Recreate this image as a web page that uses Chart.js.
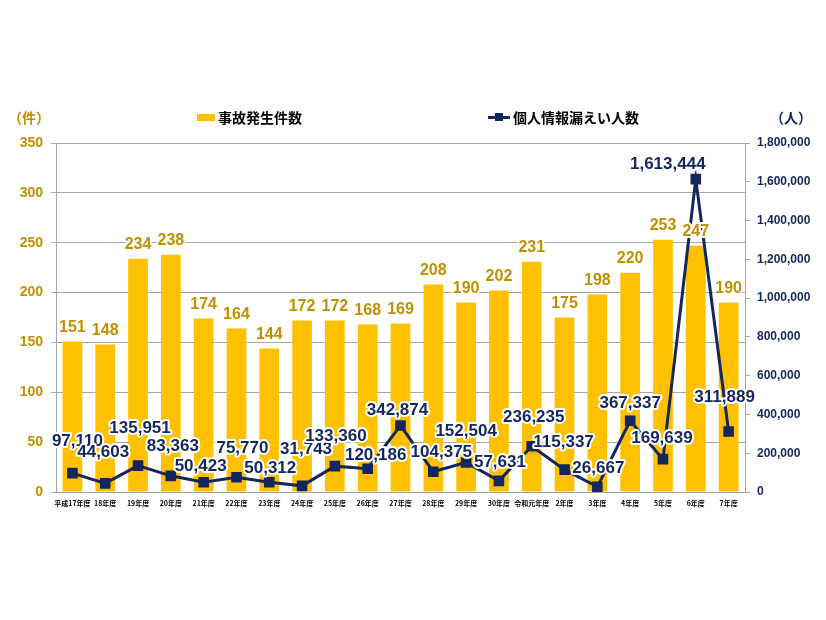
<!DOCTYPE html>
<html>
<head>
<meta charset="utf-8">
<script src="https://cdn.jsdelivr.net/npm/chart.js@4"></script>
<style>
  body { margin: 0; background: #fff; }
  #wrap { position: relative; width: 826px; height: 620px; }
  .lbl { position: absolute; font-family: "Noto Sans CJK JP", sans-serif; font-weight: bold; font-size: 14px; line-height: 20px; white-space: nowrap; }
  .sw { position: absolute; }
</style>
</head>
<body>
<div id="wrap">
  <canvas id="myChart" width="826" height="620"></canvas>
  <div class="lbl" style="left:8px; top:107px; color:#BF9000;">（件）</div>
  <div class="lbl" style="left:770px; top:107px; color:#13275C;">（人）</div>
  <div class="sw" style="left:197px; top:114px; width:18px; height:7px; background:#FFC000;"></div>
  <div class="lbl" style="left:218px; top:107px; color:#000;">事故発生件数</div>
  <div class="sw" style="left:488px; top:116px; width:22px; height:3px; background:#13275C;"></div>
  <div class="sw" style="left:495px; top:113px; width:8px; height:8px; background:#13275C;"></div>
  <div class="lbl" style="left:513px; top:107px; color:#000;">個人情報漏えい人数</div>
</div>
<script>
const labels = ['平成17年度', '18年度', '19年度', '20年度', '21年度', '22年度', '23年度', '24年度', '25年度', '26年度', '27年度',
  '28年度', '29年度', '30年度', '令和元年度', '2年度', '3年度', '4年度', '5年度', '6年度', '7年度']
const incidents = [151, 148, 234, 238, 174, 164, 144, 172, 172, 168, 169, 208, 190, 202, 231, 175, 198, 220, 253, 247, 190]
const leakedPeople = [97110, 44603, 135951, 83363, 50423, 75770, 50312, 31743, 133360, 120186, 342874,
  104375, 152504, 57631, 236235, 115337, 26667, 367337, 169639, 1613444, 311889]
const leftTicks = [0, 50, 100, 150, 200, 250, 300, 350]
const rightTicks = [0, 200000, 400000, 600000, 800000, 1000000, 1200000, 1400000, 1600000, 1800000]

// label nudges for the line values (px from the point), so they don't overlap
const lineLabelDx = [5, -2, 2, 2, -3, 6, 1, 4, 1, 8, -3, 8, 0, 1, 2, -1, 1, 0, -1, -28, -4]
const lineLabelDy = [-32, -31, -37, -30, -16, -29, -14, -37, -30, -13, -15, -19, -31, -19, -29, -27, -19, -17, -21, -15, -34]

const gold = '#FFC000'
const goldText = '#BF9000'
const navy = '#13275C'
const gridGray = '#A6A6A6'
const numFont = '"Liberation Sans", Arial, sans-serif'

function fmt(v) { return v.toLocaleString('en-US') }

function haloText(ctx, text, x, y, color) {
  ctx.lineWidth = 4
  ctx.lineJoin = 'round'
  ctx.strokeStyle = '#fff'
  ctx.strokeText(text, x, y)
  ctx.fillStyle = color
  ctx.fillText(text, x, y)
}

const valueLabels = {
  id: 'valueLabels',
  afterDatasetsDraw(chart) {
    const ctx = chart.ctx
    ctx.save()
    ctx.textAlign = 'center'
    ctx.textBaseline = 'middle'
    const bars = chart.getDatasetMeta(0).data
    ctx.font = 'bold 16px ' + numFont
    bars.forEach((b, i) => {
      haloText(ctx, String(incidents[i]), b.x, b.y - 14, goldText)
    })
    const pts = chart.getDatasetMeta(1).data
    ctx.font = 'bold 17px ' + numFont
    pts.forEach((p, i) => {
      haloText(ctx, fmt(leakedPeople[i]), p.x + lineLabelDx[i], p.y + lineLabelDy[i], navy)
    })
    ctx.restore()
  }
}

const ctx = document.getElementById('myChart')
const chart = new Chart(ctx, {
  type: 'bar',
  data: {
    labels: labels,
    datasets: [{
      label: '事故発生件数',
      data: incidents,
      backgroundColor: gold,
      yAxisID: 'y',
      order: 1,
      categoryPercentage: 1,
      barPercentage: 0.6
    }, {
      type: 'line',
      label: '個人情報漏えい人数',
      data: leakedPeople,
      borderColor: navy,
      backgroundColor: navy,
      borderWidth: 3,
      pointStyle: 'rect',
      pointRadius: 7.5,
      pointBorderWidth: 0,
      yAxisID: 'y2',
      order: 0
    }]
  },
  options: {
    responsive: false,
    animation: false,
    devicePixelRatio: 1,
    layout: { padding: { top: 143, bottom: 108, left: 0, right: 0 } },
    plugins: {
      legend: { display: false },
      tooltip: { enabled: false }
    },
    scales: {
      x: {
        offset: true,
        grid: { display: false, drawTicks: false },
        border: { display: false },
        ticks: {
          autoSkip: false, maxRotation: 0, padding: 7, color: '#000',
          font: { family: '"Noto Sans CJK JP", sans-serif', size: 7, weight: 'bold' }
        },
        afterFit: s => { s.height = 20 }
      },
      y: {
        position: 'left',
        min: 0, max: 350,
        afterBuildTicks: s => { s.ticks = leftTicks.map(v => ({ value: v })) },
        grid: { color: gridGray, lineWidth: 1, tickLength: 5 },
        border: { color: gridGray, width: 1 },
        ticks: { color: goldText, padding: 8, font: { family: numFont, size: 14, weight: 'bold' } },
        afterFit: s => { s.width = 56 }
      },
      y2: {
        position: 'right',
        min: 0, max: 1800000,
        afterBuildTicks: s => { s.ticks = rightTicks.map(v => ({ value: v })) },
        grid: { drawOnChartArea: false, color: gridGray, tickLength: 5 },
        border: { color: gridGray, width: 1 },
        ticks: { color: navy, padding: 7, font: { family: numFont, size: 12, weight: 'bold' }, callback: v => fmt(v) },
        afterFit: s => { s.width = 81 }
      }
    }
  },
  plugins: [valueLabels]
})
</script>
</body>
</html>
